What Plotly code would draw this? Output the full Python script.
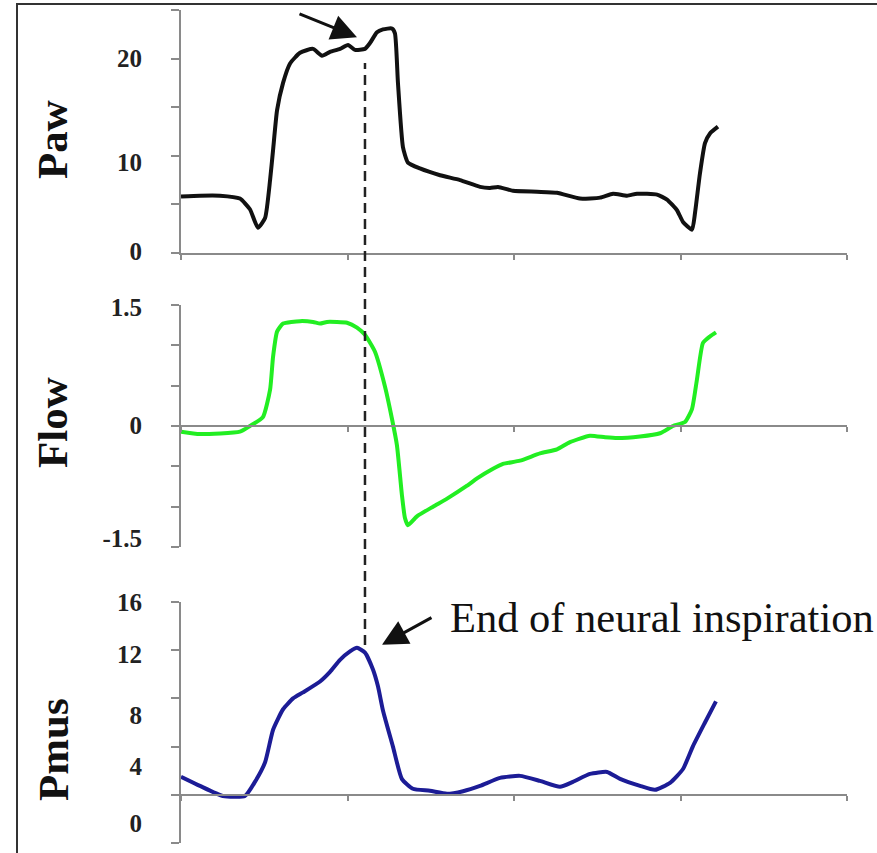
import plotly.graph_objects as go

# ---------------- data (time axis: 0..4, ticks every 1) ----------------
paw_t = [0.000, 0.114, 0.234, 0.354, 0.414, 0.462, 0.505, 0.535, 0.553, 0.577,
         0.613, 0.655, 0.715, 0.793, 0.847, 0.895, 0.955, 1.003, 1.045, 1.105,
         1.135, 1.177, 1.213, 1.267, 1.285, 1.303, 1.333, 1.363, 1.435, 1.556,
         1.676, 1.796, 1.856, 1.904, 1.994, 2.138, 2.258, 2.396, 2.517, 2.595,
         2.679, 2.739, 2.859, 2.919, 2.979, 3.015, 3.069, 3.087, 3.117, 3.147,
         3.177, 3.225]
paw_v = [5.8, 5.9, 5.9, 5.6, 4.5, 2.6, 3.6, 7.5, 10.6, 14.7,
         17.5, 19.5, 20.6, 21.0, 20.3, 20.7, 21.0, 21.4, 20.9, 21.0,
         21.6, 22.7, 23.0, 23.1, 22.6, 17.5, 10.9, 9.3, 8.7, 8.0,
         7.5, 6.8, 6.7, 6.8, 6.4, 6.3, 6.2, 5.6, 5.7, 6.1,
         5.9, 6.1, 6.0, 5.5, 4.4, 3.2, 2.4, 4.1, 8.2, 11.3,
         12.3, 13.0]

flow_t = [0.000, 0.114, 0.354, 0.414, 0.492, 0.535, 0.553, 0.577, 0.613, 0.715,
          0.793, 0.835, 0.877, 0.997, 1.057, 1.105, 1.165, 1.225, 1.267, 1.297,
          1.327, 1.345, 1.363, 1.417, 1.514, 1.598, 1.718, 1.778, 1.874, 1.934,
          2.036, 2.156, 2.258, 2.336, 2.456, 2.547, 2.619, 2.757, 2.877, 2.955,
          3.027, 3.069, 3.099, 3.135, 3.177, 3.213]
flow_v = [-0.07, -0.10, -0.07, 0.00, 0.11, 0.45, 0.86, 1.17, 1.27, 1.30,
          1.29, 1.27, 1.29, 1.28, 1.22, 1.13, 0.92, 0.49, 0.09, -0.24,
          -0.86, -1.14, -1.23, -1.12, -1.00, -0.90, -0.74, -0.65, -0.53, -0.47,
          -0.43, -0.34, -0.29, -0.20, -0.12, -0.14, -0.15, -0.13, -0.09, 0.00,
          0.05, 0.21, 0.58, 1.03, 1.11, 1.16]

pmus_t = [0.000, 0.114, 0.252, 0.384, 0.444, 0.505, 0.553, 0.613, 0.673, 0.733,
          0.835, 0.895, 0.955, 1.015, 1.057, 1.105, 1.153, 1.183, 1.213, 1.273,
          1.327, 1.393, 1.495, 1.598, 1.694, 1.796, 1.916, 2.036, 2.156, 2.276,
          2.354, 2.456, 2.559, 2.637, 2.757, 2.847, 2.937, 3.015, 3.075, 3.147,
          3.213]
pmus_v = [1.5, 0.74, -0.1, -0.1, 1.07, 2.7, 5.4, 7.1, 8.0, 8.5,
          9.4, 10.2, 11.2, 11.9, 12.2, 11.8, 10.4, 9.0, 7.0, 4.0,
          1.3, 0.5, 0.33, 0.08, 0.3, 0.74, 1.4, 1.57, 1.15, 0.66,
          1.07, 1.73, 1.9, 1.32, 0.74, 0.41, 0.99, 2.14, 4.04, 6.0,
          7.75]

x_ticks = [0, 1, 2, 3, 4]
paw_ticks = [0, 5, 10, 15, 20, 25]
flow_ticks = [-1.5, -1.0, -0.5, 0, 0.5, 1.0, 1.5]
pmus_ticks = [-4, 0, 4, 8, 12, 16]

paw_labels = ["20", "10", "0"]
flow_labels = ["1.5", "0", "-1.5"]
pmus_labels = ["16", "12", "8", "4", "0"]
# where the reference prints its labels (slightly off the ticks)
paw_label_at = [20.0, 9.3, 0.2]
flow_label_at = [1.47, 0.01, -1.39]
pmus_label_at = [16.0, 11.7, 6.6, 2.4, -2.4]

neural_end_t = 1.105
annotation_text = "End of neural inspiration"

# ---------------- layout geometry ----------------
W, H = 877, 853
xdom = [181 / W, 847 / W]
d1 = [1 - 253 / H, 1 - 10 / H]
d2 = [1 - 547 / H, 1 - 305 / H]
d3 = [1 - 843 / H, 1 - 602 / H]
r1, r2, r3 = [0, 25], [-1.5, 1.5], [-4, 16]


def zero_pos(dom, rng):
    return dom[0] + (0 - rng[0]) / (rng[1] - rng[0]) * (dom[1] - dom[0])


AX = "#8a8a8a"
TICKFONT = dict(family="Liberation Serif", size=25, color="#222222", weight="bold")

fig = go.Figure()
fig.add_trace(go.Scatter(x=paw_t, y=paw_v, mode="lines", xaxis="x", yaxis="y",
                         line=dict(color="#111111", width=4, shape="spline", smoothing=0.5),
                         showlegend=False))
fig.add_trace(go.Scatter(x=flow_t, y=flow_v, mode="lines", xaxis="x2", yaxis="y2",
                         line=dict(color="#22ee22", width=4, shape="spline", smoothing=0.5),
                         showlegend=False))
fig.add_trace(go.Scatter(x=pmus_t, y=pmus_v, mode="lines", xaxis="x3", yaxis="y3",
                         line=dict(color="#1c1c96", width=4, shape="spline", smoothing=0.5),
                         showlegend=False))

xbase = dict(domain=xdom, range=[0, 4], showline=True, linecolor=AX, linewidth=2,
             ticks="outside", tickvals=x_ticks, ticklen=5, tickwidth=2, tickcolor=AX,
             showticklabels=False, showgrid=False, zeroline=False, automargin=False)
ybase = dict(showline=True, linecolor=AX, linewidth=2, ticks="outside", ticklen=8,
             tickwidth=2, tickcolor=AX, showticklabels=False, showgrid=False,
             zeroline=False, automargin=False)
ylab = dict(showline=False, ticks="", showgrid=False, zeroline=False, side="left",
            tickfont=TICKFONT, ticklabelstandoff=38, automargin=False)

fig.update_layout(
    template="none",
    width=W, height=H, margin=dict(l=0, r=0, t=0, b=0, autoexpand=False),
    paper_bgcolor="white", plot_bgcolor="rgba(0,0,0,0)",
    xaxis=dict(**xbase, anchor="y"),
    xaxis2=dict(**xbase, anchor="free", position=zero_pos(d2, r2)),
    xaxis3=dict(**xbase, anchor="free", position=zero_pos(d3, r3)),
    yaxis=dict(**ybase, domain=d1, range=r1, tickvals=paw_ticks, anchor="x"),
    yaxis2=dict(**ybase, domain=d2, range=r2, tickvals=flow_ticks, anchor="x2"),
    yaxis3=dict(**ybase, domain=d3, range=r3, tickvals=pmus_ticks, anchor="x3"),
    yaxis4=dict(**ylab, overlaying="y", anchor="x", range=r1,
                tickvals=paw_label_at, ticktext=paw_labels),
    yaxis5=dict(**ylab, overlaying="y2", anchor="x2", range=r2,
                tickvals=flow_label_at, ticktext=flow_labels),
    yaxis6=dict(**ylab, overlaying="y3", anchor="x3", range=r3,
                tickvals=pmus_label_at, ticktext=pmus_labels),
)

# dummy traces so the label axes render
for ya, xa in (("y4", "x"), ("y5", "x2"), ("y6", "x3")):
    fig.add_trace(go.Scatter(x=[None], y=[None], xaxis=xa, yaxis=ya,
                             showlegend=False, hoverinfo="skip"))

# axis titles
TITLEFONT = dict(family="Liberation Serif", size=43, color="#111111", weight="bold")
for txt, ypix in (("Paw", 140), ("Flow", 423), ("Pmus", 750)):
    fig.add_annotation(text=txt, xref="paper", yref="paper", x=53 / W, y=1 - ypix / H,
                       xanchor="center", yanchor="middle", textangle=-90,
                       showarrow=False, font=TITLEFONT)

# outer frame (top and left edges visible)
fig.add_shape(type="rect", xref="paper", yref="paper", x0=17 / W, x1=1.2,
              y0=-0.2, y1=1 - 4 / H, line=dict(color="#333333", width=2),
              layer="below")

# dashed marker of end of neural inspiration
fig.add_shape(type="line", xref="x", yref="paper", x0=neural_end_t, x1=neural_end_t,
              y0=1 - 645 / H, y1=1 - 63 / H,
              line=dict(color="#222222", width=2.5, dash="10px,6px"))

# arrows
fig.add_annotation(x=1.057, y=22.2, xref="x", yref="y", ax=-59, ay=-24,
                   showarrow=True, arrowhead=2, arrowsize=1.7, arrowwidth=3,
                   arrowcolor="#111111", text="")
fig.add_annotation(x=1.207, y=12.45, xref="x3", yref="y3", ax=51, ay=-28,
                   showarrow=True, arrowhead=2, arrowsize=1.7, arrowwidth=3,
                   arrowcolor="#111111", text="")
fig.add_annotation(text=annotation_text, xref="paper", yref="paper",
                   x=448 / W, y=1 - 617 / H, xanchor="left", yanchor="middle",
                   showarrow=False,
                   font=dict(family="Liberation Serif", size=42.5, color="#111111"))

fig.write_html("out.html")
